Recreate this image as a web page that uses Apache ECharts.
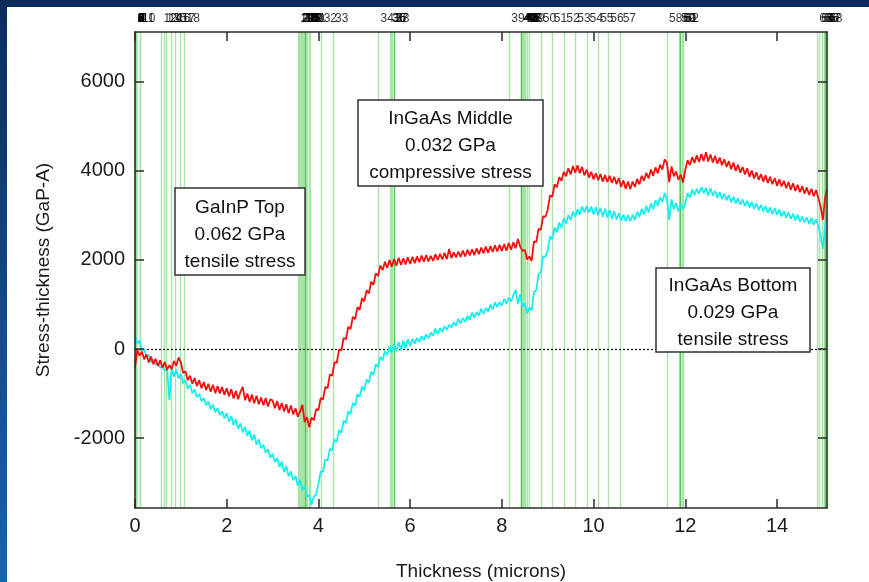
<!DOCTYPE html>
<html>
<head>
<meta charset="utf-8">
<script src="https://cdn.jsdelivr.net/npm/echarts@6/dist/echarts.min.js"></script>
<style>
  html, body { margin: 0; padding: 0; background: #fff; }
  #chart { width: 869px; height: 582px; }
</style>
</head>
<body>
<div id="chart"></div>
<script>
// Sample positions along the film (microns)
const thickness = [
  0,0.05,0.1,0.15,0.2,0.25,0.3,0.35,0.4,0.45,
  0.5,0.55,0.6,0.65,0.7,0.75,0.8,0.85,0.9,0.95,
  1,1.05,1.1,1.15,1.2,1.25,1.3,1.35,1.4,1.45,
  1.5,1.55,1.6,1.65,1.7,1.75,1.8,1.85,1.9,1.95,
  2,2.05,2.1,2.15,2.2,2.25,2.3,2.35,2.4,2.45,
  2.5,2.55,2.6,2.65,2.7,2.75,2.8,2.85,2.9,2.95,
  3,3.05,3.1,3.15,3.2,3.25,3.3,3.35,3.4,3.45,
  3.5,3.55,3.6,3.65,3.7,3.75,3.8,3.85,3.9,3.95,
  4,4.05,4.1,4.15,4.2,4.25,4.3,4.35,4.4,4.45,
  4.5,4.55,4.6,4.65,4.7,4.75,4.8,4.85,4.9,4.95,
  5,5.05,5.1,5.15,5.2,5.25,5.3,5.35,5.4,5.45,
  5.5,5.55,5.6,5.65,5.7,5.75,5.8,5.85,5.9,5.95,
  6,6.05,6.1,6.15,6.2,6.25,6.3,6.35,6.4,6.45,
  6.5,6.55,6.6,6.65,6.7,6.75,6.8,6.85,6.9,6.95,
  7,7.05,7.1,7.15,7.2,7.25,7.3,7.35,7.4,7.45,
  7.5,7.55,7.6,7.65,7.7,7.75,7.8,7.85,7.9,7.95,
  8,8.05,8.1,8.15,8.2,8.25,8.3,8.35,8.4,8.45,
  8.5,8.55,8.6,8.65,8.7,8.75,8.8,8.85,8.9,8.95,
  9,9.05,9.1,9.15,9.2,9.25,9.3,9.35,9.4,9.45,
  9.5,9.55,9.6,9.65,9.7,9.75,9.8,9.85,9.9,9.95,
  10,10.05,10.1,10.15,10.2,10.25,10.3,10.35,10.4,10.45,
  10.5,10.55,10.6,10.65,10.7,10.75,10.8,10.85,10.9,10.95,
  11,11.05,11.1,11.15,11.2,11.25,11.3,11.35,11.4,11.45,
  11.5,11.55,11.6,11.65,11.7,11.75,11.8,11.85,11.9,11.95,
  12,12.05,12.1,12.15,12.2,12.25,12.3,12.35,12.4,12.45,
  12.5,12.55,12.6,12.65,12.7,12.75,12.8,12.85,12.9,12.95,
  13,13.05,13.1,13.15,13.2,13.25,13.3,13.35,13.4,13.45,
  13.5,13.55,13.6,13.65,13.7,13.75,13.8,13.85,13.9,13.95,
  14,14.05,14.1,14.15,14.2,14.25,14.3,14.35,14.4,14.45,
  14.5,14.55,14.6,14.65,14.7,14.75,14.8,14.85,14.9,14.95,
  15,15.05,15.09
];

// Stress-thickness, wafer trace 1 (GaP-A)
const stressRed = [
  -420,-20,-150,-60,-230,-120,-300,-170,-340,-220,
  -380,-250,-420,-290,-470,-360,-450,-270,-380,-190,
  -300,-540,-500,-700,-600,-780,-650,-830,-700,-880,
  -740,-920,-780,-960,-800,-990,-830,-1000,-850,-1030,
  -880,-1060,-900,-1110,-940,-1130,-960,-850,-1150,-1000,
  -1190,-1020,-1220,-1050,-1240,-1090,-1260,-1100,-1290,-1130,
  -1150,-1330,-1170,-1370,-1210,-1400,-1240,-1440,-1270,-1470,
  -1330,-1520,-1400,-1250,-1640,-1530,-1760,-1540,-1600,-1350,
  -1370,-1100,-1130,-850,-880,-570,-600,-300,-310,-10,
  -30,250,220,500,450,720,670,940,880,1140,
  1070,1320,1250,1510,1440,1700,1640,1880,1770,1960,
  1820,2000,1850,2020,1870,2050,1890,2040,1900,2060,
  1910,2070,1930,2080,1950,2100,1960,2110,1970,2090,
  1980,2130,2000,2140,2010,2160,2020,2250,2040,2170,
  2060,2190,2070,2210,2080,2230,2100,2240,2110,2260,
  2130,2280,2150,2300,2160,2310,2180,2330,2190,2340,
  2200,2360,2210,2380,2230,2400,2260,2470,2300,2200,
  2230,2010,2080,1980,2420,2400,2700,2680,2980,2970,
  3130,3450,3420,3700,3630,3860,3780,3980,3880,4060,
  3920,4110,3960,4130,3950,4090,3900,4030,3850,3980,
  3810,3950,3790,3930,3760,3910,3750,3890,3730,3870,
  3700,3840,3640,3790,3600,3760,3590,3760,3640,3820,
  3700,3890,3780,3960,3830,4030,3890,4080,3950,4140,
  4030,4260,4180,3750,4100,3880,3990,3800,3920,3740,
  4030,4240,4130,4310,4180,4350,4200,4380,4220,4420,
  4210,4370,4190,4340,4160,4300,4130,4260,4090,4220,
  4040,4190,4000,4140,3960,4090,3920,4060,3870,4010,
  3830,3970,3800,3930,3760,3900,3730,3870,3700,3840,
  3670,3810,3650,3780,3610,3750,3580,3720,3550,3690,
  3520,3660,3490,3630,3460,3600,3430,3570,3400,3200,
  2900,3420,3580
];

// Stress-thickness, wafer trace 2 (GaP-A)
const stressCyan = [
  330,120,190,-50,0,-180,-130,-290,-230,-350,
  -320,-420,-390,-490,-450,-1150,-410,-620,-460,-660,
  -560,-770,-700,-890,-810,-990,-910,-1080,-1010,-1170,
  -1100,-1260,-1180,-1350,-1250,-1420,-1330,-1480,-1400,-1560,
  -1440,-1630,-1510,-1710,-1580,-1790,-1670,-1870,-1750,-1950,
  -1830,-2050,-1920,-2150,-2030,-2230,-2150,-2330,-2250,-2440,
  -2350,-2540,-2450,-2650,-2530,-2760,-2630,-2860,-2750,-2950,
  -2850,-3070,-2940,-3170,-3080,-3320,-3280,-3500,-3310,-3270,
  -3020,-2750,-2760,-2480,-2500,-2240,-2280,-2030,-2080,-1820,
  -1880,-1610,-1660,-1400,-1460,-1210,-1280,-1010,-1080,-840,
  -930,-680,-760,-510,-580,-340,-410,-170,-260,-40,
  -140,60,-80,120,-50,160,-30,190,10,220,
  70,230,120,250,160,290,200,330,240,370,
  300,460,340,470,380,510,430,550,480,600,
  520,680,570,700,610,740,660,820,700,830,
  750,910,790,920,840,1000,890,1050,940,1060,
  970,1130,1020,1150,1070,1210,1330,1020,1230,940,
  1030,800,930,870,1280,1320,1680,1720,2080,2070,
  2220,2530,2470,2730,2620,2840,2720,2940,2820,3010,
  2900,3090,2970,3140,3020,3200,3070,3210,3070,3200,
  3020,3190,3000,3170,2970,3150,2950,3120,2920,3100,
  2910,3050,2880,3020,2870,3010,2870,3020,2900,3080,
  2970,3150,3020,3210,3070,3270,3140,3340,3220,3410,
  3300,3500,3370,2900,3360,3140,3280,3090,3260,3140,
  3270,3500,3400,3580,3460,3600,3480,3640,3500,3620,
  3450,3610,3440,3550,3400,3520,3370,3490,3340,3460,
  3290,3420,3270,3390,3240,3360,3210,3330,3180,3300,
  3150,3270,3120,3240,3090,3210,3060,3180,3030,3160,
  3010,3130,2980,3100,2950,3070,2920,3040,2890,3010,
  2860,2980,2840,2960,2810,2940,2790,2910,2770,2550,
  2250,2780,2950
];

// Layer boundaries (microns); layer number = position in this list
const layerEdges = [
  0.01,0.01,0.01,0.01,0.02,0.02,0.02,0.03,0.03,0.03,0.11,0.11,
  0.58,0.64,0.69,0.80,0.87,0.98,1.08,
  3.56,3.58,3.60,3.62,3.64,3.66,3.69,3.71,3.71,3.74,3.76,3.80,3.82,
  4.07,4.32,
  5.31,5.56,5.58,5.62,5.65,
  8.16,8.43,8.43,8.44,8.46,8.47,8.48,8.50,8.52,8.55,8.60,
  8.85,9.09,9.36,9.60,9.87,10.10,10.32,10.59,
  11.60,11.87,11.90,11.93,11.96,
  14.88,14.92,14.98,15.02,15.06,15.09
];
// Boundaries shared by several layers (drawn heavier)
const sharedEdges = [0.01, 3.71, 5.65, 8.43, 11.90, 15.06];

const xTicks = [0, 2, 4, 6, 8, 10, 12, 14];
const yTicks = [-2000, 0, 2000, 4000, 6000];
const xRange = [0, 15.09];
const yRange = [-3570, 7120];

const annotations = [
  { lines: ['GaInP Top', '0.062 GPa', 'tensile stress'], box: [175, 188, 130, 87] },
  { lines: ['InGaAs Middle', '0.032 GPa', 'compressive stress'], box: [358, 100, 185, 86] },
  { lines: ['InGaAs Bottom', '0.029 GPa', 'tensile stress'], box: [656, 268, 154, 84] }
];

const FONT = '"Liberation Sans", Arial, Helvetica, sans-serif';
const AXIS_COLOR = '#2b2b2b';

function pairs(xs, ys) { return xs.map((x, i) => [x, ys[i]]); }

const chart = echarts.init(document.getElementById('chart'), null, { renderer: 'canvas' });

const axisLineStyle = { color: AXIS_COLOR, width: 1.5 };

const annotationGraphics = annotations.map(a => {
  const [bx, by, bw, bh] = a.box;
  return {
    type: 'group',
    z: 100,
    children: [
      { type: 'rect', z: 100, shape: { x: bx, y: by, width: bw, height: bh },
        style: { fill: '#fff', stroke: '#333', lineWidth: 1.5 } },
      { type: 'text', z: 101, x: bx + bw / 2, y: by + bh / 2 + 3,
        style: { text: a.lines.join('\n'), font: '19px ' + FONT, fill: '#111',
                 align: 'center', verticalAlign: 'middle', lineHeight: 27 } }
    ]
  };
});

const option = {
  backgroundColor: '#fff',
  animation: false,
  textStyle: { fontFamily: FONT },
  graphic: [
    { type: 'rect', z: -10, shape: { x: 0, y: 0, width: 869, height: 7 },
      style: { fill: '#0c2b5c' } },
    { type: 'rect', z: -10, shape: { x: 0, y: 0, width: 7, height: 582 },
      style: { fill: new echarts.graphic.LinearGradient(0, 0, 0, 1, [
        { offset: 0, color: '#0c2b5c' }, { offset: 1, color: '#1764b0' }]) } },
    ...annotationGraphics
  ],
  grid: { left: 135, right: 42, top: 32, bottom: 74, containLabel: false, outerBoundsMode: 'none' },
  xAxis: [
    {
      type: 'value', position: 'bottom', min: xRange[0], max: xRange[1], z: 8,
      axisLine: { show: true, onZero: false, lineStyle: axisLineStyle },
      axisTick: { show: true, inside: true, length: 9, lineStyle: axisLineStyle, customValues: xTicks },
      axisLabel: { show: true, customValues: xTicks, fontSize: 20, color: '#1a1a1a', margin: 8, fontFamily: FONT },
      splitLine: { show: false },
      name: 'Thickness (microns)', nameLocation: 'middle', nameGap: 54,
      nameTextStyle: { fontSize: 19, color: '#1a1a1a', fontFamily: FONT }
    },
    {
      type: 'value', position: 'top', min: xRange[0], max: xRange[1], z: 8,
      axisLine: { show: true, onZero: false, lineStyle: axisLineStyle },
      axisTick: { show: true, inside: true, length: 9, lineStyle: axisLineStyle, customValues: xTicks },
      axisLabel: { show: false },
      splitLine: { show: false }
    }
  ],
  yAxis: [
    {
      type: 'value', position: 'left', min: yRange[0], max: yRange[1], z: 8,
      axisLine: { show: true, onZero: false, lineStyle: axisLineStyle },
      axisTick: { show: true, inside: true, length: 9, lineStyle: axisLineStyle, customValues: yTicks },
      axisLabel: { show: true, customValues: yTicks, fontSize: 20, color: '#1a1a1a', margin: 10,
                   fontFamily: FONT, formatter: v => String(v) },
      splitLine: { show: false },
      name: 'Stress-thickness (GaP-A)', nameLocation: 'middle', nameGap: 82, nameRotate: 90,
      nameTextStyle: { fontSize: 19, color: '#1a1a1a', fontFamily: FONT }
    },
    {
      type: 'value', position: 'right', min: yRange[0], max: yRange[1], z: 8,
      axisLine: { show: true, onZero: false, lineStyle: axisLineStyle },
      axisTick: { show: true, inside: true, length: 9, lineStyle: axisLineStyle, customValues: yTicks },
      axisLabel: { show: false },
      splitLine: { show: false }
    }
  ],
  series: [
    {
      // layer boundary markers, drawn under the traces
      name: 'boundaries', type: 'line', data: [], z: 1, silent: true,
      markLine: {
        z: 1, silent: true, symbol: 'none', animation: false,
        label: { show: false },
        data: [
          ...layerEdges.map(x => ({ xAxis: x, lineStyle: { color: '#a9e4a9', width: 1.4, type: 'solid' } })),
          ...sharedEdges.map(x => ({ xAxis: x, lineStyle: { color: '#5cc45c', width: 1.3, type: 'solid' } }))
        ]
      }
    },
    {
      name: 'trace 2', type: 'line', data: pairs(thickness, stressCyan),
      showSymbol: false, symbol: 'none', z: 3,
      lineStyle: { color: '#19eeee', width: 1.8 },
      markLine: {
        z: 2, silent: true, symbol: 'none', animation: false,
        label: { show: false },
        lineStyle: { color: '#111', type: [2, 2], width: 1.2 },
        data: [{ yAxis: 0 }]
      }
    },
    {
      name: 'trace 1', type: 'line', data: pairs(thickness, stressRed),
      showSymbol: false, symbol: 'none', z: 4,
      lineStyle: { color: '#f41010', width: 1.8 }
    },
    {
      name: 'layers', type: 'scatter', z: 6, clip: false, silent: true,
      symbolSize: 0,
      data: layerEdges.map(x => [x, yRange[1]]),
      label: {
        show: true, position: 'top', distance: 7, align: 'left', offset: [2, 0],
        fontSize: 12, color: '#000', fontFamily: FONT,
        formatter: p => String(p.dataIndex)
      }
    }
  ]
};

chart.setOption(option);
</script>
</body>
</html>
